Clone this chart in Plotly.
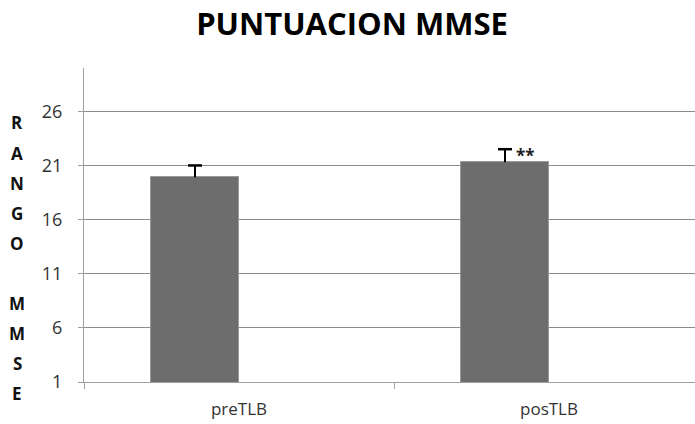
import plotly.graph_objects as go

# MMSE scores before and after treatment
categories = ["preTLB", "posTLB"]
scores = [19.9, 21.3]
score_err = [1.1, 1.2]
y_ticks = [1, 6, 11, 16, 21, 26]
axis_letters = ["R", "A", "N", "G", "O", "", "M", "M", "S", "E"]

W, H = 695, 424
M_L, M_R, M_T, M_B = 84, 0, 68, 42
plot_w = W - M_L - M_R
plot_h = H - M_T - M_B

CAT_PX = 310                       # pixel width of one category slot
X_RANGE = [-0.5, -0.5 + plot_w / CAT_PX]  # last slot runs slightly past the right edge
BAR_W = 0.284      # bar width in category units
BAR_OFF = -BAR_W   # bar sits in the left half of the group slot

fig = go.Figure()
fig.add_trace(go.Bar(
    x=categories,
    y=scores,
    width=BAR_W,
    offset=BAR_OFF,
    marker=dict(color="#6d6d6d", line=dict(color="#9a9a9a", width=1)),
    # upper stem only; the cap is drawn by the marker trace below
    error_y=dict(type="data", array=score_err, arrayminus=[0, 0], symmetric=False,
                 color="black", thickness=2, width=0),
    showlegend=False,
))

# caps on top of the upper error stems (numeric overlay axis aligned with categories)
cap_x = [i + BAR_OFF + BAR_W / 2 for i in range(len(categories))]
cap_y = [s + e for s, e in zip(scores, score_err)]
fig.add_trace(go.Scatter(
    x=cap_x, y=cap_y, xaxis="x2", mode="markers",
    marker=dict(symbol="line-ew-open", size=10, color="black",
                line=dict(color="black", width=2.5)),
    showlegend=False, hoverinfo="skip",
))

# significance marker next to the post-treatment error bar
fig.add_annotation(
    x=categories[1], y=cap_y[1], xref="x", yref="y",
    text="<b>**</b>", showarrow=False, xanchor="left", yanchor="middle",
    xshift=-35, yshift=-6, font=dict(family="Open Sans", size=17, color="#222"),
)

# stacked vertical axis title
for i, ch in enumerate(axis_letters):
    if not ch:
        continue
    py = 123 + 30 * i
    fig.add_annotation(
        x=(17 - M_L) / plot_w, y=(H - M_B - py) / plot_h, xref="paper", yref="paper",
        text=f"<b>{ch}</b>", showarrow=False, xanchor="center", yanchor="middle",
        font=dict(family="Open Sans", size=17, color="#111"),
    )

fig.update_layout(
    width=W, height=H,
    margin=dict(l=M_L, r=M_R, t=M_T, b=M_B, pad=0),
    paper_bgcolor="white", plot_bgcolor="white",
    title=dict(text="<b>PUNTUACION MMSE</b>", x=352 / W, xanchor="center",
               y=1 - 24 / H, yanchor="middle",
               font=dict(family="Open Sans", size=31, color="black")),
    bargap=0,
    xaxis2=dict(overlaying="x", range=X_RANGE, visible=False),
)
fig.layout.xaxis.update(
    type="category", range=X_RANGE,
    showline=True, linecolor="#a0a0a0", linewidth=1,
    ticks="outside", tickson="boundaries", ticklen=6, tickcolor="#a0a0a0",
    ticklabelstandoff=12,
    tickfont=dict(family="Open Sans", size=17, color="#333"),
    showgrid=False,
)
fig.update_yaxes(
    range=[1, 30], tickvals=y_ticks,
    showline=True, linecolor="#a0a0a0", linewidth=1,
    ticks="outside", ticklen=5, tickcolor="#a0a0a0", ticklabelstandoff=12,
    showgrid=True, gridcolor="#8c8c8c", gridwidth=1,
    tickfont=dict(family="Open Sans", size=18, color="#333"),
    zeroline=False,
)

fig.write_html("out.html")
